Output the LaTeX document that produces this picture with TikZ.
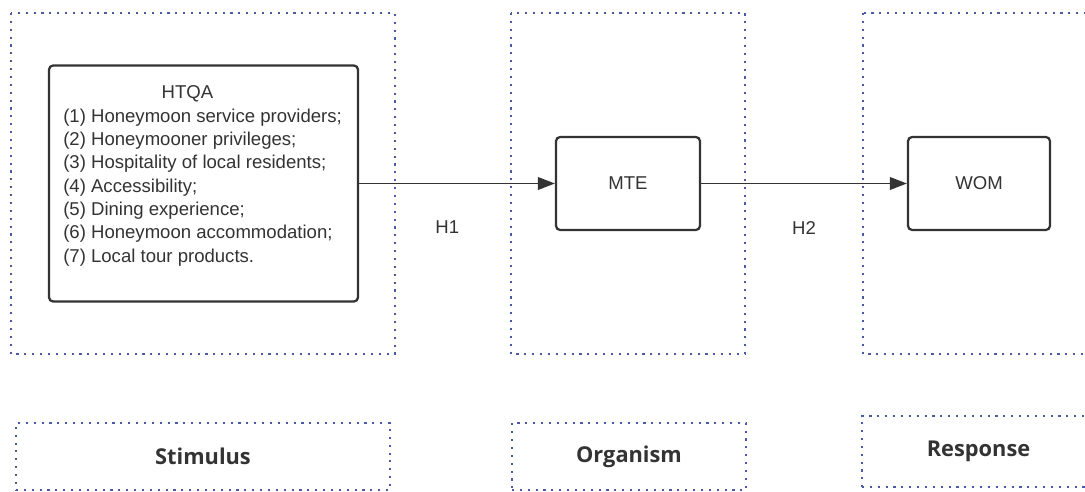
\documentclass[tikz,border=0pt]{standalone}
\usepackage{fontspec}
\setmainfont{Liberation Sans}
\newfontfamily\headfont{Open Sans}
\usetikzlibrary{arrows.meta,positioning}
\definecolor{ink}{HTML}{333333}
\definecolor{dotblue}{HTML}{4A5AA6}
\tikzset{
  frame/.style={draw=dotblue, line width=1.5pt, dash pattern=on 1.5pt off 4.1pt},
  block/.style={draw=ink, line width=1.6pt, rounded corners=3pt, fill=white},
  flow/.style={draw=ink, line width=1pt, -{Triangle[length=12pt,width=9pt]}},
  txt/.style={text=ink, font=\fontsize{13.2pt}{16.6pt}\selectfont},
  stage/.style={frame, text=ink, font=\headfont\bfseries\fontsize{15.5pt}{19pt}\selectfont}
}
\begin{document}
\begin{tikzpicture}[x=0.025cm,y=-0.025cm]
\clip (0,0) rectangle (1085,492);
\fill[white] (0,0) rectangle (1085,492);
% dotted stage frames
\draw[frame] (11,13) rectangle (395,354);
\draw[frame] (511,13) rectangle (745,354);
\draw[frame] (863,13) rectangle (1110,354);
% blocks
\node[block, minimum width=7.725cm, minimum height=5.9cm] (htqa) at (203.5,183.5) {};
\node[txt, align=left, anchor=west, inner sep=0pt] (htqatxt) at (63,176)
  {\hspace*{70pt}HTQA\\
   (1) Honeymoon service providers;\\
   (2) Honeymooner privileges;\\
   (3) Hospitality of local residents;\\
   (4) Accessibility;\\
   (5) Dining experience;\\
   (6) Honeymoon accommodation;\\
   (7) Local tour products.};
\node[block, txt, minimum width=3.6cm, minimum height=2.325cm] (mte) at (628,183.5) {MTE};
\node[block, txt, minimum width=3.55cm, minimum height=2.325cm] (wom) at (979,183.5) {WOM};
% hypotheses
\draw[flow] (htqa) -- (mte) node[txt, pos=0.45, yshift=-31pt] (h1) {H1};
\draw[flow] (mte) -- (wom) node[txt, pos=0.5, yshift=-32pt] (h2) {H2};
% stage names
\node[stage, minimum width=9.35cm, minimum height=1.675cm] (stim) at (203,456.5) {Stimulus};
\node[stage, minimum width=5.85cm, minimum height=1.675cm] (org) at (629,456.5) {Organism};
\node[stage, minimum width=5.825cm, minimum height=1.775cm] (resp) at (978.5,451.5) {Response};
\end{tikzpicture}
\end{document}
